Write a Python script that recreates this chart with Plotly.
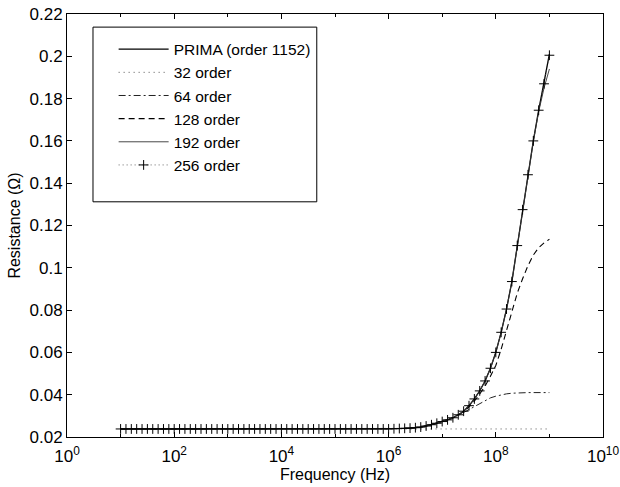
import numpy as np
import plotly.graph_objects as go

# ---- data -----------------------------------------------------------------
# frequency exponents (log10 Hz) of the 256-order sample grid: 10^1 .. 10^9, 10 per decade
freq_exp = [round(1 + 0.1 * i, 1) for i in range(81)]

prima = [
    0.0238, 0.0238, 0.0238, 0.0238, 0.0238, 0.0238, 0.0238, 0.0238, 0.0238, 0.0238,
    0.0238, 0.0238, 0.0238, 0.0238, 0.0238, 0.0238, 0.0238, 0.0238, 0.0238, 0.0238,
    0.0238, 0.0238, 0.0238, 0.0238, 0.0238, 0.0238, 0.0238, 0.0238, 0.0238, 0.0238,
    0.0238, 0.0238, 0.0238, 0.0238, 0.0238, 0.0238, 0.0238, 0.0238, 0.0238, 0.0238,
    0.0238, 0.0238, 0.0238, 0.0238, 0.0238, 0.0238, 0.0238, 0.0238, 0.0238, 0.0238,
    0.0238, 0.0239, 0.0240, 0.0241, 0.0242, 0.0244, 0.0247, 0.0252, 0.0258, 0.0265,
    0.0273, 0.0281, 0.0291, 0.0305, 0.0322, 0.0348, 0.0380, 0.0418, 0.0465, 0.0525,
    0.0600, 0.0695, 0.0805, 0.0935, 0.1105, 0.1275, 0.1440, 0.1600, 0.1745, 0.1875,
    0.2010,
]

order256 = [
    0.0238, 0.0238, 0.0238, 0.0238, 0.0238, 0.0238, 0.0238, 0.0238, 0.0238, 0.0238,
    0.0238, 0.0238, 0.0238, 0.0238, 0.0238, 0.0238, 0.0238, 0.0238, 0.0238, 0.0238,
    0.0238, 0.0238, 0.0238, 0.0238, 0.0238, 0.0238, 0.0238, 0.0238, 0.0238, 0.0238,
    0.0238, 0.0238, 0.0238, 0.0238, 0.0238, 0.0238, 0.0238, 0.0238, 0.0238, 0.0238,
    0.0238, 0.0238, 0.0238, 0.0238, 0.0238, 0.0238, 0.0238, 0.0238, 0.0238, 0.0238,
    0.0238, 0.0239, 0.0240, 0.0241, 0.0242, 0.0244, 0.0247, 0.0252, 0.0258, 0.0265,
    0.0273, 0.0281, 0.0291, 0.0305, 0.0322, 0.0348, 0.0380, 0.0418, 0.0465, 0.0525,
    0.0600, 0.0695, 0.0805, 0.0935, 0.1105, 0.1275, 0.1440, 0.1600, 0.1745, 0.1870,
    0.2005,
]

# coarser grid (log10 Hz) for the line-only reduced models
line_exp = [1.0, 2.0, 3.0, 4.0, 5.0, 6.0, 6.2, 6.4, 6.6, 6.8, 7.0, 7.1, 7.2, 7.3, 7.4,
            7.5, 7.6, 7.7, 7.8, 7.9, 8.0, 8.1, 8.2, 8.3, 8.4, 8.5, 8.6, 8.7, 8.8, 8.9, 9.0]

order32 = [0.0238, 0.0238, 0.0238, 0.0238, 0.0238, 0.0238, 0.0238, 0.0238, 0.0238, 0.0238,
           0.0238, 0.0238, 0.0238, 0.0238, 0.0238, 0.0238, 0.0238, 0.0238, 0.0238, 0.0238,
           0.0238, 0.0238, 0.0238, 0.0238, 0.0238, 0.0238, 0.0238, 0.0238, 0.0238, 0.0238,
           0.0238]

order64 = [0.0238, 0.0238, 0.0238, 0.0238, 0.0238, 0.0238, 0.0240, 0.0242, 0.0247, 0.0258,
           0.0273, 0.0281, 0.0290, 0.0302, 0.0316, 0.0330, 0.0346, 0.0361, 0.0374, 0.0385,
           0.0393, 0.0399, 0.0404, 0.0407, 0.0409, 0.0410, 0.0410, 0.0410, 0.0410, 0.0410,
           0.0410]

order128 = [0.0238, 0.0238, 0.0238, 0.0238, 0.0238, 0.0238, 0.0240, 0.0242, 0.0247, 0.0258,
            0.0273, 0.0281, 0.0291, 0.0304, 0.0320, 0.0343, 0.0370, 0.0403, 0.0441, 0.0487,
            0.0538, 0.0615, 0.0705, 0.0795, 0.0880, 0.0948, 0.1010, 0.1060, 0.1095, 0.1118,
            0.1135]

order192 = [0.0238, 0.0238, 0.0238, 0.0238, 0.0238, 0.0238, 0.0240, 0.0242, 0.0247, 0.0258,
            0.0273, 0.0281, 0.0291, 0.0305, 0.0322, 0.0348, 0.0380, 0.0418, 0.0465, 0.0525,
            0.0600, 0.0695, 0.0805, 0.0935, 0.1105, 0.1275, 0.1440, 0.1598, 0.1738, 0.1850,
            0.1940]

x_tick_exp = [0, 2, 4, 6, 8, 10]
y_ticks = [0.02, 0.04, 0.06, 0.08, 0.1, 0.12, 0.14, 0.16, 0.18, 0.2, 0.22]
y_ticktext = ["0.02", "0.04", "0.06", "0.08", "0.1", "0.12", "0.14", "0.16", "0.18", "0.2", "0.22"]

# ---- figure ---------------------------------------------------------------
f256 = [10 ** e for e in freq_exp]
fline = [10 ** e for e in line_exp]

FONT = "Liberation Sans, Arial, Helvetica, sans-serif"

fig = go.Figure()
fig.add_trace(go.Scatter(x=f256, y=prima, mode="lines", name="PRIMA (order 1152)",
                         line=dict(color="black", width=1.3)))
fig.add_trace(go.Scatter(x=fline, y=order32, mode="lines", name="32 order",
                         line=dict(color="#555555", width=1, dash="1px,4px")))
fig.add_trace(go.Scatter(x=fline, y=order64, mode="lines", name="64 order",
                         line=dict(color="#222222", width=1, dash="7px,3px,2px,3px")))
fig.add_trace(go.Scatter(x=fline, y=order128, mode="lines", name="128 order",
                         line=dict(color="black", width=1.1, dash="6px,4px")))
fig.add_trace(go.Scatter(x=fline, y=order192, mode="lines", name="192 order",
                         line=dict(color="#333333", width=0.9)))
fig.add_trace(go.Scatter(x=f256, y=order256, mode="lines+markers", name="256 order",
                         line=dict(color="#444444", width=0.8, dash="1px,3px"),
                         marker=dict(symbol="cross-thin", size=7, color="black",
                                     line=dict(color="black", width=1))))

# legend frame (drawn as a shape so its size matches the original box)
fig.add_shape(type="rect", xref="paper", yref="paper",
              x0=0.0485, x1=0.466, y0=0.556, y1=0.969,
              line=dict(color="black", width=1), fillcolor="white", layer="above")

axis_common = dict(showline=True, linecolor="black", linewidth=1, mirror="ticks",
                   ticks="inside", ticklen=5, tickcolor="black", showgrid=False,
                   zeroline=False, tickfont=dict(family=FONT, size=17, color="black"))

fig.update_xaxes(type="log", range=[0, 10],
                 tickvals=[10 ** e for e in x_tick_exp],
                 ticktext=[f"10<sup>{e}</sup>" for e in x_tick_exp],
                 minor=dict(tickvals=[10 ** e for e in range(1, 10, 2)], ticks="inside",
                            ticklen=3, tickcolor="black"),
                 ticklabelstandoff=4,
                 title=dict(text="Frequency (Hz)", font=dict(family=FONT, size=16, color="black"),
                            standoff=2),
                 **axis_common)
fig.update_yaxes(range=[0.02, 0.22], tickvals=y_ticks, ticktext=y_ticktext,
                 title=dict(text="Resistance (Ω)", font=dict(family=FONT, size=16, color="black"),
                            standoff=4),
                 **axis_common)

fig.update_layout(
    width=620, height=487,
    margin=dict(l=67, r=17, t=14, b=50, autoexpand=False),
    paper_bgcolor="white", plot_bgcolor="white",
    showlegend=True,
    legend=dict(x=0.087, y=0.956, xanchor="left", yanchor="top",
                bgcolor="rgba(0,0,0,0)", borderwidth=0,
                font=dict(family=FONT, size=15.5, color="black"),
                itemwidth=50, tracegroupgap=0),
)

fig.write_html("out.html")
